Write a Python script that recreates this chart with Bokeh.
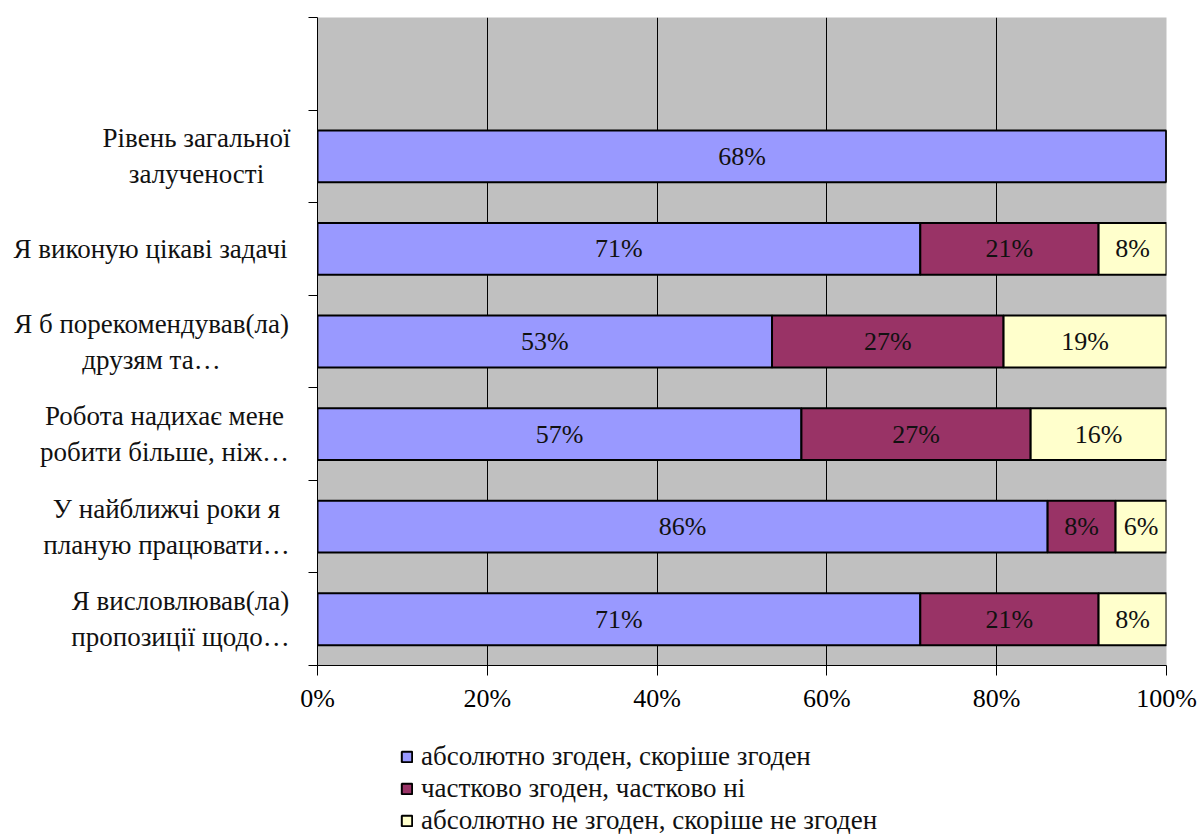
from bokeh.plotting import figure
from bokeh.layouts import row, column
from bokeh.models import (ColumnDataSource, Range1d, FixedTicker, PrintfTickFormatter,
                          Legend, LegendItem)
from bokeh.core.properties import value
from bokeh.embed import file_html
from bokeh.resources import INLINE

# Survey statements, bottom to top
categories = [
    "Я висловлював(ла)\nпропозиції щодо…",
    "У найближчі роки я\nпланую працювати…",
    "Робота надихає мене\nробити більше, ніж…",
    "Я б порекомендував(ла)\nдрузям та…",
    "Я виконую цікаві задачі",
    "Рівень загальної\nзалученості",
]
agree = [71, 86, 57, 53, 71, 68]
partly = [21, 8, 27, 27, 21, 0]
disagree = [8, 6, 16, 19, 8, 0]

series_names = [
    "абсолютно згоден, скоріше згоден",
    "частково згоден, частково ні",
    "абсолютно не згоден, скоріше не згоден",
]
series_colors = ["#9999FF", "#993366", "#FFFFCC"]
x_ticks = [0, 20, 40, 60, 80, 100]

FONT = "Liberation Serif"
TEXT_COLOR = "#111111"
W, H = 1202, 834
CAP_W = 297                 # width of the caption column left of the chart
LEG_H = 114                 # height of the legend strip below the chart
MAIN_W, MAIN_H = W - CAP_W, H - LEG_H
B_LEFT, B_RIGHT, B_TOP, B_BOTTOM = 20, 36, 17, 55
n_slots = len(categories) + 1
ys = [i + 0.5 for i in range(len(categories))]

# ---- main chart -------------------------------------------------------------
p = figure(width=MAIN_W, height=MAIN_H, output_backend="svg", toolbar_location=None,
           x_range=Range1d(0, 100), y_range=Range1d(0, n_slots),
           min_border_left=B_LEFT, min_border_right=B_RIGHT,
           min_border_top=B_TOP, min_border_bottom=B_BOTTOM)
p.background_fill_color = "#C0C0C0"
p.border_fill_color = "white"
p.outline_line_color = None

# 100%-stacked segments: each row normalised by its own total
series = [agree, partly, disagree]
totals = [sum(v) for v in zip(*series)]
left = [0.0] * len(categories)
lab_x, lab_y, lab_t = [], [], []
for vals, color in zip(series, series_colors):
    share = [v * 100.0 / t for v, t in zip(vals, totals)]
    right = [l + s for l, s in zip(left, share)]
    src = ColumnDataSource(dict(y=ys, left=left, right=right))
    p.hbar(y="y", left="left", right="right", height=0.56, source=src,
           fill_color=color, line_color="black", line_width=2)
    for v, l, rr, y in zip(vals, left, right, ys):
        if v > 0:
            lab_x.append((l + rr) / 2)
            lab_y.append(y)
            lab_t.append(f"{v}%")
    left = right

p.text(x=lab_x, y=lab_y, text=lab_t, text_align="center", text_baseline="middle",
       text_font=value(FONT), text_font_size="26px", text_color=TEXT_COLOR)

p.xaxis.ticker = FixedTicker(ticks=x_ticks)
p.xaxis.formatter = PrintfTickFormatter(format="%d%%")
p.xaxis.major_label_text_font = FONT
p.xaxis.major_label_text_font_size = "26px"
p.xaxis.major_label_text_color = "black"
p.xaxis.major_label_standoff = 8
p.xaxis.major_tick_in = 0
p.xaxis.major_tick_out = 10
p.xaxis.minor_tick_line_color = None
p.xaxis.axis_line_color = "black"
p.xaxis.major_tick_line_color = "black"

p.yaxis.ticker = FixedTicker(ticks=list(range(n_slots + 1)))
p.yaxis.major_label_overrides = {i: "" for i in range(n_slots + 1)}
p.yaxis.major_label_standoff = 0
p.yaxis.major_tick_in = 0
p.yaxis.major_tick_out = 9
p.yaxis.minor_tick_line_color = None
p.yaxis.axis_line_color = "black"
p.yaxis.major_tick_line_color = "black"

p.xgrid.grid_line_color = "black"
p.xgrid.grid_line_width = 1
p.ygrid.grid_line_color = None

# ---- caption column (shares the chart's vertical scale) ---------------------
cap = figure(width=CAP_W, height=MAIN_H, output_backend="svg", toolbar_location=None,
             x_range=Range1d(0, CAP_W), y_range=p.y_range,
             x_axis_location=None, y_axis_location=None,
             min_border_left=0, min_border_right=0,
             min_border_top=B_TOP, min_border_bottom=B_BOTTOM)
cap.outline_line_color = None
cap.grid.grid_line_color = None
caption_center_px = [180, 166, 164, 151, 150, 196]
cap.text(x=caption_center_px, y=ys, text=categories, text_align="center",
         text_baseline="middle", text_font=value(FONT), text_font_size="27px",
         text_color=TEXT_COLOR, text_line_height=1.2)

# ---- legend strip -----------------------------------------------------------
leg = figure(width=W, height=LEG_H, output_backend="svg", toolbar_location=None,
             x_range=Range1d(0, W), y_range=Range1d(0, LEG_H),
             x_axis_location=None, y_axis_location=None,
             min_border_left=0, min_border_right=0, min_border_top=0, min_border_bottom=0)
leg.outline_line_color = None
leg.grid.grid_line_color = None
items = []
for name, color in zip(series_names, series_colors):
    # swatch-only renderers: a NaN bar draws nothing, its legend glyph still shows
    r = leg.hbar(y=[float("nan")], left=[0], right=[1], height=1, fill_color=color,
                 line_color="black", line_width=2)
    items.append(LegendItem(label=name, renderers=[r]))
legend = Legend(items=items, location=(400, -2), orientation="vertical",
                glyph_width=13, glyph_height=13, label_height=26, spacing=1,
                label_standoff=8, padding=0, margin=0,
                label_text_font=FONT, label_text_font_size="27px",
                label_text_color=TEXT_COLOR,
                border_line_color=None, background_fill_alpha=0)
leg.add_layout(legend, "center")

layout = column(row(cap, p, spacing=0), leg, spacing=0)
open("out.html", "w").write(file_html(layout, INLINE))
